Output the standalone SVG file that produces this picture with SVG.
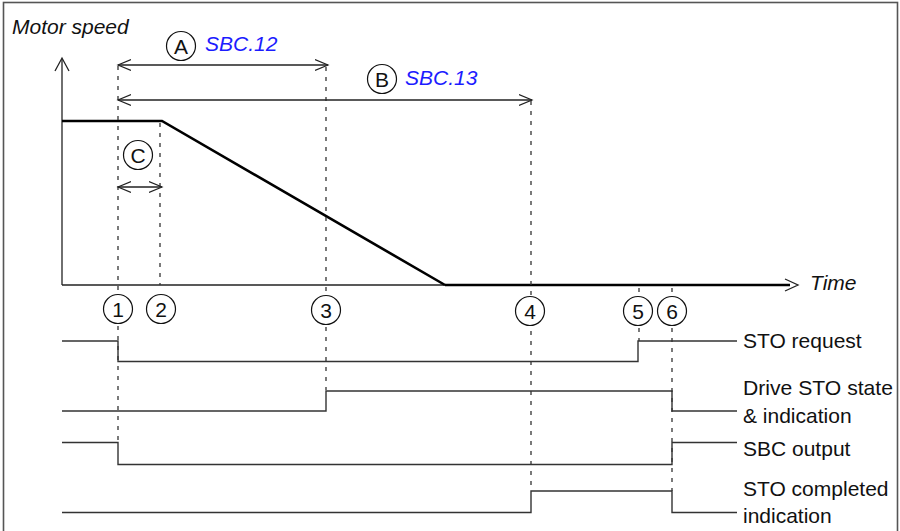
<svg xmlns="http://www.w3.org/2000/svg" width="900" height="531" viewBox="0 0 900 531">
<defs>
<style>
text{font-family:"Liberation Sans",Arial,sans-serif;font-size:21px;fill:#111}
.it{font-style:italic}
.blue{fill:#1c1cff}
.ctr{text-anchor:middle}
.thin{fill:none;stroke:#222;stroke-width:1.3}
.sig{fill:none;stroke:#333;stroke-width:1.4}
.thick{fill:none;stroke:#000;stroke-width:2.6}
.dash{fill:none;stroke:#333;stroke-width:1.3;stroke-dasharray:4 6}
.circ{fill:#fff;stroke:#111;stroke-width:1.2}
</style>
<marker id="ah" markerWidth="16" markerHeight="16" refX="13" refY="8" orient="auto-start-reverse" markerUnits="userSpaceOnUse">
<path d="M0,2.5 L13,8 L0,13.5" fill="none" stroke="#222" stroke-width="1.2"/>
</marker>
</defs>
<rect x="3.5" y="2.5" width="894" height="545" fill="#fff" stroke="#555" stroke-width="1.6"/>

<g id="axes">
<line class="thin" x1="62" y1="285" x2="62" y2="59"/>
<path class="thin" d="M55,71 L62,58 L69,71"/>
<line class="thin" x1="62" y1="285" x2="445" y2="285"/>
<line class="thick" x1="445" y1="285" x2="790" y2="285"/>
<path class="thin" d="M785,279 L798,285 L785,291"/>
<text class="it" x="12" y="34">Motor speed</text>
<text class="it" x="810" y="290">Time</text>
</g>

<g id="speed-curve">
<polyline class="thick" points="62,121 162,121 445,285"/>
</g>

<g id="connectors">
<line class="dash" x1="118" y1="66" x2="118" y2="442"/>
<line class="dash" x1="160" y1="123" x2="160" y2="285"/>
<line class="dash" x1="326" y1="67" x2="326" y2="390"/>
<line class="dash" x1="531" y1="101" x2="531" y2="491"/>
<line class="dash" x1="639" y1="288" x2="639" y2="341"/>
<line class="dash" x1="672" y1="288" x2="672" y2="491"/>
<line class="thin" x1="118" y1="65" x2="328" y2="65" marker-start="url(#ah)" marker-end="url(#ah)"/>
<line class="thin" x1="118" y1="100" x2="532" y2="100" marker-start="url(#ah)" marker-end="url(#ah)"/>
<line class="thin" x1="118" y1="187" x2="162" y2="187" marker-start="url(#ah)" marker-end="url(#ah)"/>
</g>

<g id="label-A">
<circle class="circ" cx="181" cy="46" r="14.5"/>
<text class="ctr" x="181" y="53.5">A</text>
<text class="it blue" x="205" y="51">SBC.12</text>
</g>
<g id="label-B">
<circle class="circ" cx="382" cy="79" r="14.5"/>
<text class="ctr" x="382" y="86.5">B</text>
<text class="it blue" x="405" y="85">SBC.13</text>
</g>
<g id="label-C">
<circle class="circ" cx="138" cy="155" r="14.5"/>
<text class="ctr" x="138" y="162.5">C</text>
</g>

<g id="marker-1"><circle class="circ" cx="118" cy="309" r="14.5"/><text class="ctr" x="118" y="316.5">1</text></g>
<g id="marker-2"><circle class="circ" cx="161" cy="309" r="14.5"/><text class="ctr" x="161" y="316.5">2</text></g>
<g id="marker-3"><circle class="circ" cx="326" cy="310" r="14.5"/><text class="ctr" x="326" y="317.5">3</text></g>
<g id="marker-4"><circle class="circ" cx="530" cy="311" r="14.5"/><text class="ctr" x="530" y="318.5">4</text></g>
<g id="marker-5"><circle class="circ" cx="638" cy="311" r="14.5"/><text class="ctr" x="638" y="318.5">5</text></g>
<g id="marker-6"><circle class="circ" cx="672" cy="311" r="14.5"/><text class="ctr" x="672" y="318.5">6</text></g>

<g id="sto-request">
<polyline class="sig" points="62,341 118,341 118,361.5 638,361.5 638,341 737,341"/>
<text x="743" y="348">STO request</text>
</g>
<g id="drive-sto-state">
<polyline class="sig" points="62,411 326,411 326,391 672,391 672,411 737,411"/>
<text x="743" y="395" textLength="150" lengthAdjust="spacingAndGlyphs">Drive STO state</text>
<text x="743" y="423">&amp; indication</text>
</g>
<g id="sbc-output">
<polyline class="sig" points="62,442.5 118,442.5 118,464.5 672,464.5 672,442.5 737,442.5"/>
<text x="743" y="456">SBC output</text>
</g>
<g id="sto-completed">
<polyline class="sig" points="62,512.5 531,512.5 531,491 672,491 672,512.5 737,512.5"/>
<text x="743" y="496">STO completed</text>
<text x="743" y="523">indication</text>
</g>
</svg>
